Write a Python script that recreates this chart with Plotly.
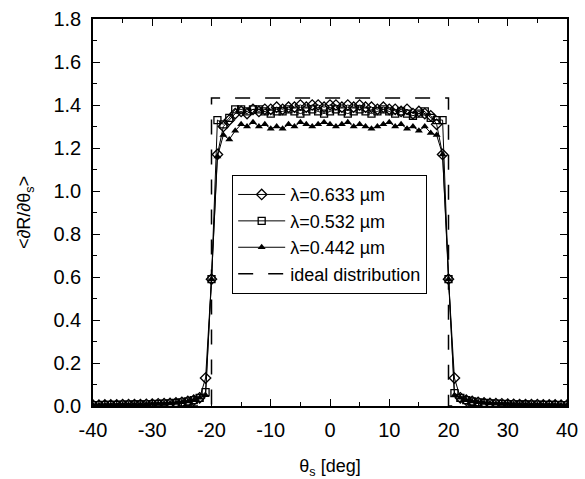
import plotly.graph_objects as go

theta = list(range(-40, 41))

tail_left = [0.004, 0.004, 0.005, 0.005, 0.005, 0.006, 0.006, 0.007, 0.007, 0.008,
             0.009, 0.010, 0.011, 0.012, 0.014, 0.017, 0.021, 0.027, 0.038]
tail_right = tail_left[::-1]

# lambda = 0.633 um (diamonds)
d_left_edge = [0.13, 0.59, 1.17, 1.30, 1.33]
d_plateau = [1.36, 1.37, 1.36, 1.38, 1.37, 1.38, 1.38, 1.39, 1.38, 1.39, 1.39,
             1.40, 1.39, 1.40, 1.40, 1.39, 1.40, 1.40, 1.39, 1.40, 1.39, 1.40,
             1.39, 1.39, 1.38, 1.39, 1.38, 1.38, 1.37, 1.38, 1.36, 1.37, 1.36]
d_right_edge = [1.35, 1.31, 1.17, 0.59, 0.13]

# lambda = 0.532 um (squares)
s_left_edge = [0.065, 0.59, 1.33, 1.31, 1.34]
s_plateau = [1.38, 1.38, 1.37, 1.38, 1.38, 1.37, 1.36, 1.37, 1.37, 1.38, 1.37,
             1.36, 1.37, 1.38, 1.37, 1.36, 1.37, 1.38, 1.37, 1.36, 1.37, 1.38,
             1.37, 1.36, 1.37, 1.38, 1.37, 1.36, 1.37, 1.36, 1.35, 1.36, 1.37]
s_right_edge = [1.34, 1.33, 1.33, 0.59, 0.06]

# lambda = 0.442 um (triangles)
t_left_edge = [0.05, 0.59, 1.16, 1.26, 1.24]
t_plateau = [1.28, 1.31, 1.30, 1.32, 1.30, 1.31, 1.29, 1.30, 1.29, 1.31, 1.30,
             1.32, 1.31, 1.30, 1.31, 1.32, 1.31, 1.30, 1.31, 1.32, 1.30, 1.31,
             1.30, 1.29, 1.30, 1.31, 1.32, 1.30, 1.31, 1.29, 1.30, 1.28, 1.30]
t_right_edge = [1.27, 1.26, 1.17, 0.59, 0.05]

val_633 = tail_left + d_left_edge + d_plateau + d_right_edge + tail_right
val_532 = tail_left + s_left_edge + s_plateau + s_right_edge + tail_right
val_442 = tail_left + t_left_edge + t_plateau + t_right_edge + tail_right

ideal_x = [-40, -20, -20, 20, 20, 40]
ideal_y = [0, 0, 1.432, 1.432, 0, 0]

names = ["λ=0.633 µm", "λ=0.532 µm", "λ=0.442 µm", "ideal distribution"]
x_tickvals = [-40, -30, -20, -10, 0, 10, 20, 30, 40]
x_ticktext = ["-40", "-30", "-20", "-10", "0", "10", "20", "30", "40"]

FONT = "Liberation Sans, Arial, Helvetica, sans-serif"

fig = go.Figure()
fig.add_trace(go.Scatter(
    x=theta, y=val_633, name=names[0], mode="lines+markers",
    line=dict(color="black", width=1),
    marker=dict(symbol="diamond-open", size=8, color="black", line=dict(width=1.3))))
fig.add_trace(go.Scatter(
    x=theta, y=val_532, name=names[1], mode="lines+markers",
    line=dict(color="black", width=1),
    marker=dict(symbol="square-open", size=7, color="black", line=dict(width=1.3))))
fig.add_trace(go.Scatter(
    x=theta, y=val_442, name=names[2], mode="lines+markers",
    line=dict(color="black", width=1),
    marker=dict(symbol="triangle-up", size=7, color="black")))
fig.add_trace(go.Scatter(
    x=ideal_x, y=ideal_y, name=names[3], mode="lines",
    line=dict(color="black", width=1.5, dash="longdash")))

axis_common = dict(
    showgrid=False, zeroline=False, showline=True, linecolor="black", linewidth=1.5,
    mirror="allticks", ticks="inside", ticklen=7, tickwidth=1.3, tickcolor="black",
    tickfont=dict(family=FONT, size=20, color="black"), automargin=False,
)

fig.update_xaxes(
    range=[-40, 40], tickvals=x_tickvals, ticktext=x_ticktext, ticklabelstandoff=5,
    minor=dict(dtick=5, ticks="inside", ticklen=4, tickcolor="black", tickwidth=1),
    title=dict(text="θ<sub>s</sub> [deg]", font=dict(family=FONT, size=18, color="black"), standoff=25),
    **axis_common)
fig.update_yaxes(
    range=[0, 1.8], dtick=0.2, tickformat=".1f", ticklabelstandoff=6,
    minor=dict(dtick=0.1, ticks="inside", ticklen=4, tickcolor="black", tickwidth=1),
    title=dict(text="&lt;∂R/∂θ<sub>s</sub>&gt;", font=dict(family=FONT, size=18, color="black"), standoff=18),
    **axis_common)

fig.update_layout(
    width=585, height=479,
    margin=dict(l=93, r=18, t=19, b=73),
    paper_bgcolor="white", plot_bgcolor="white",
    showlegend=True,
    legend=dict(x=0.293, y=0.597, xanchor="left", yanchor="top",
                bgcolor="white", bordercolor="black", borderwidth=1.3,
                font=dict(family=FONT, size=18, color="black"),
                tracegroupgap=0, itemwidth=47),
)

fig.write_html(
    "out.html",
    config={"displayModeBar": False},
    post_script="document.body.style.margin='0';document.body.style.overflow='hidden';",
)
